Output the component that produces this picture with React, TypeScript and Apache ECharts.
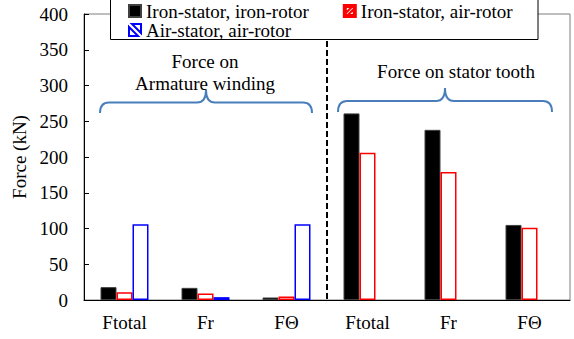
import React, { useEffect, useRef } from "react";
import * as echarts from "echarts";

// Force components on armature winding (left three) and stator tooth (right three)
const categories = ["Ftotal", "Fr", "FΘ", "Ftotal", "Fr", "FΘ"];
const ironIronValues = [18, 17, 3.5, 261, 238, 105];
const ironAirValues = [11, 9, 5, 206, 179, 101];
const airAirValues: (number | null)[] = [106, 4, 106, null, null, null];
const seriesNames = ["Iron-stator, iron-rotor", "Iron-stator, air-rotor", "Air-stator, air-rotor"];
const yTicks = { min: 0, max: 400, interval: 50 };

const FONT = "'Liberation Serif', 'Times New Roman', serif";

// curly braces above the two groups of bars
echarts.graphic.registerShape(
  "braceLeft",
  echarts.graphic.extendPath(
    "M100,113 Q100,102.5 109,102.5 L197,102.5 Q206,102.5 206,90 Q206,102.5 215,102.5 L303,102.5 Q312,102.5 312,113",
    {}
  )
);
echarts.graphic.registerShape(
  "braceRight",
  echarts.graphic.extendPath(
    "M338,112 Q338,101 347,101 L436,101 Q445,101 445,88 Q445,101 454,101 L543,101 Q552,101 552,112",
    {}
  )
);

const redIcon =
  "path://M0,0 L12,0 L12,12 L0,12 Z M2,2 L2,10 L10,10 L10,2 Z M2,10 L2,8 L8,2 L10,2 L10,4 L4,10 Z";
const blueIcon = "path://M3,0 L12,0 L12,9 Z M0,3 L9,12 L0,12 Z";

export default function App() {
  const ref = useRef<HTMLDivElement>(null);

  useEffect(() => {
    if (!ref.current) return;
    const chart = echarts.init(ref.current, undefined, { renderer: "svg" });
    const braceStyle = { stroke: "#4a7ebb", lineWidth: 2, fill: "none" };
    const textStyle = { fontFamily: FONT, fontSize: 19, color: "#000" };

    chart.setOption({
      animation: false,
      backgroundColor: "#fff",
      grid: {
        left: 84,
        right: 4,
        top: 14,
        bottom: 39,
        show: true,
        borderColor: "#7f7f7f",
        borderWidth: 1,
      },
      legend: [
        {
          data: [
            { name: seriesNames[0], icon: "rect" },
            { name: seriesNames[1], icon: redIcon },
          ],
          left: 128,
          top: 1.5,
          padding: 0,
          itemGap: 34,
          itemWidth: 12,
          itemHeight: 12,
          z: 10,
          textStyle: { ...textStyle, lineHeight: 19 },
        },
        {
          data: [{ name: seriesNames[2], icon: blueIcon }],
          left: 128,
          top: 20.5,
          padding: 0,
          itemWidth: 12,
          itemHeight: 12,
          z: 10,
          textStyle: { ...textStyle, lineHeight: 19 },
        },
      ],
      xAxis: {
        type: "category",
        data: categories,
        axisLine: { lineStyle: { color: "#000", width: 1 } },
        axisTick: { inside: true, length: 5, lineStyle: { color: "#000" } },
        axisLabel: { ...textStyle, margin: 13 },
      },
      yAxis: {
        type: "value",
        min: yTicks.min,
        max: yTicks.max,
        interval: yTicks.interval,
        name: "Force (kN)",
        nameLocation: "middle",
        nameGap: 52,
        nameTextStyle: textStyle,
        axisLine: { show: true, lineStyle: { color: "#000", width: 1 } },
        axisTick: { show: true, inside: true, length: 5, lineStyle: { color: "#000" } },
        axisLabel: { ...textStyle, margin: 16 },
        splitLine: { show: false },
      },
      series: [
        {
          name: seriesNames[0],
          type: "bar",
          data: ironIronValues,
          barWidth: 16,
          barGap: "0%",
          itemStyle: { color: "#000", borderColor: "#404040", borderWidth: 1 },
        },
        {
          name: seriesNames[1],
          type: "bar",
          data: ironAirValues,
          barWidth: 16,
          barGap: "0%",
          itemStyle: { color: "#fff", borderColor: "#ff0000", borderWidth: 1.5 },
        },
        {
          name: seriesNames[2],
          type: "bar",
          data: airAirValues,
          barWidth: 16,
          barGap: "0%",
          itemStyle: { color: "#fff", borderColor: "#0000ff", borderWidth: 1.5 },
        },
      ],
      color: ["#000", "#ff0000", "#0000ff"],
      graphic: [
        {
          type: "line",
          z: 3,
          shape: { x1: 327, y1: 14, x2: 327, y2: 300 },
          style: { stroke: "#000", lineWidth: 2, lineDash: [6, 3] },
        },
        {
          type: "rect",
          z: 5,
          shape: { x: 110.5, y: -1, width: 427.5, height: 40.5 },
          style: { fill: "#fff", stroke: "#000", lineWidth: 1 },
        },
        { type: "braceLeft", z: 6, x: 0, y: 0, style: braceStyle },
        { type: "braceRight", z: 6, x: 0, y: 0, style: braceStyle },
        {
          type: "text",
          z: 6,
          x: 205,
          y: 61,
          style: { text: "Force on", font: `19px ${FONT}`, fill: "#000", align: "center", verticalAlign: "middle" },
        },
        {
          type: "text",
          z: 6,
          x: 205,
          y: 83,
          style: { text: "Armature winding", font: `19px ${FONT}`, fill: "#000", align: "center", verticalAlign: "middle" },
        },
        {
          type: "text",
          z: 6,
          x: 456,
          y: 71,
          style: { text: "Force on stator tooth", font: `19px ${FONT}`, fill: "#000", align: "center", verticalAlign: "middle" },
        },
      ],
    });

    return () => chart.dispose();
  }, []);

  return (
    <div
      ref={ref}
      style={{ position: "fixed", left: 0, top: 0, width: 574, height: 339, background: "#fff" }}
    />
  );
}
